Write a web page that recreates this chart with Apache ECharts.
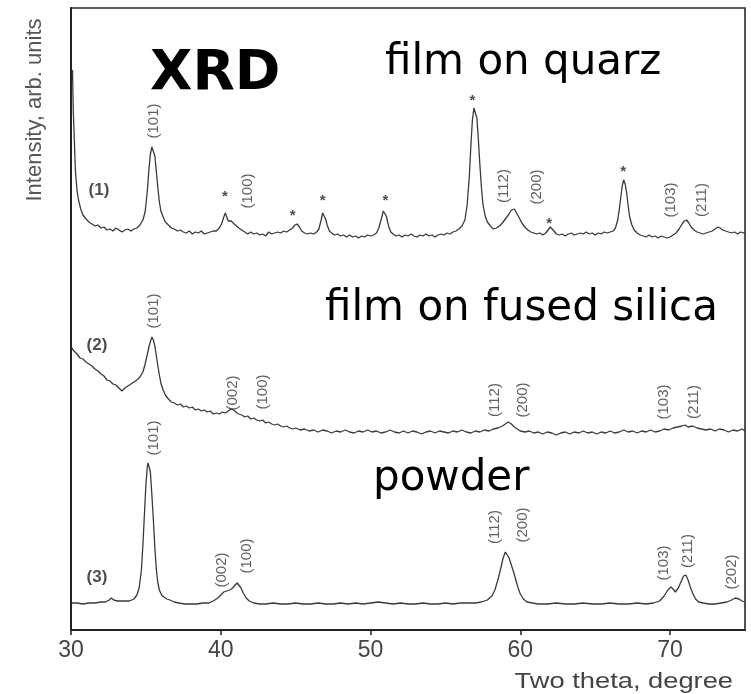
<!DOCTYPE html>
<html>
<head>
<meta charset="utf-8">
<script src="https://cdn.jsdelivr.net/npm/echarts@6/dist/echarts.min.js"></script>
<style>
  html, body { margin: 0; padding: 0; background: #fff; }
  #chart { width: 751px; height: 694px; }
</style>
</head>
<body>
<div id="chart"></div>
<script>
// two theta (degree) vs intensity (arb. units)
var filmQuartz = [
    [30.1,560],[30.15,520],[30.2,500],[30.25,478],[30.3,458],[30.4,440],[30.5,430],[30.65,421],[30.8,415],[31.0,411],[31.2,408],[31.4,406],[31.6,404],[31.8,405],[32.0,402],[32.2,403],[32.4,400],[32.6,401],[32.8,399],[33.0,402],[33.2,400],[33.4,398],[33.6,400],[33.8,401],[34.0,399],[34.2,401],[34.4,402],[34.6,405],[34.8,410],[34.95,418],[35.1,440],[35.2,460],[35.3,476],[35.4,483],[35.5,482],[35.6,474],[35.7,458],[35.8,442],[35.9,428],[36.0,419],[36.15,413],[36.3,408],[36.5,405],[36.7,402],[36.9,401],[37.1,399],[37.3,400],[37.5,398],[37.7,397],[37.9,399],[38.1,396],[38.3,398],[38.5,397],[38.7,399],[38.9,396],[39.1,397],[39.3,398],[39.5,399],[39.7,399],[39.9,402],[40.05,406],[40.2,413],[40.3,417],[40.4,416],[40.5,409],[40.6,407],[40.7,409],[40.8,408],[40.9,406],[41.0,404],[41.2,402],[41.4,400],[41.6,398],[41.8,396],[42.0,398],[42.2,396],[42.4,397],[42.6,395],[42.8,396],[43.0,394],[43.2,398],[43.4,396],[43.6,397],[43.8,398],[44.0,397],[44.2,399],[44.4,398],[44.6,400],[44.8,402],[44.95,405],[45.1,406],[45.25,403],[45.4,399],[45.6,397],[45.8,396],[46.0,397],[46.2,396],[46.4,398],[46.55,401],[46.7,410],[46.8,417],[46.9,416],[47.0,411],[47.1,405],[47.25,399],[47.4,397],[47.6,395],[47.8,396],[48.0,394],[48.2,395],[48.4,393],[48.6,395],[48.8,393],[49.0,394],[49.2,392],[49.4,394],[49.6,393],[49.8,395],[50.0,394],[50.2,395],[50.4,397],[50.55,402],[50.7,410],[50.85,419],[50.95,420],[51.05,414],[51.2,404],[51.35,398],[51.5,396],[51.7,394],[51.9,395],[52.1,393],[52.3,395],[52.5,394],[52.7,396],[52.9,394],[53.1,393],[53.3,395],[53.5,394],[53.7,396],[53.9,394],[54.1,395],[54.3,393],[54.5,395],[54.7,396],[54.9,395],[55.1,397],[55.3,396],[55.5,398],[55.7,399],[55.9,401],[56.1,404],[56.3,410],[56.45,425],[56.6,455],[56.7,485],[56.8,510],[56.9,522],[56.95,523],[57.0,521],[57.1,512],[57.2,490],[57.3,465],[57.4,443],[57.5,426],[57.65,414],[57.8,408],[58.0,404],[58.2,401],[58.4,402],[58.6,404],[58.8,407],[59.0,411],[59.2,415],[59.4,420],[59.5,422],[59.6,421],[59.75,417],[59.9,413],[60.1,407],[60.3,403],[60.5,400],[60.7,398],[60.9,397],[61.1,396],[61.3,397],[61.5,395],[61.7,397],[61.85,400],[62.0,403],[62.1,402],[62.25,399],[62.4,396],[62.6,395],[62.8,396],[63.0,394],[63.2,396],[63.4,397],[63.6,395],[63.8,396],[64.0,397],[64.2,396],[64.4,398],[64.6,396],[64.8,397],[65.0,395],[65.2,397],[65.4,396],[65.6,398],[65.8,397],[66.0,398],[66.2,399],[66.35,402],[66.5,410],[66.6,420],[66.7,432],[66.8,444],[66.9,450],[67.0,446],[67.1,437],[67.2,424],[67.3,413],[67.45,405],[67.6,400],[67.8,397],[68.0,395],[68.2,394],[68.4,393],[68.6,395],[68.8,393],[69.0,394],[69.2,392],[69.4,394],[69.6,393],[69.8,392],[70.0,393],[70.2,395],[70.4,397],[70.6,401],[70.8,406],[70.95,409],[71.1,410],[71.25,407],[71.4,403],[71.6,400],[71.8,398],[72.0,397],[72.2,396],[72.4,397],[72.6,398],[72.8,399],[73.0,401],[73.2,403],[73.35,402],[73.5,400],[73.7,399],[73.9,398],[74.1,397],[74.3,398],[74.5,396],[74.7,398],[74.9,397],[75.0,398]
];

var filmSilica = [
    [30.05,282],[30.2,279],[30.4,276],[30.6,272],[30.8,271],[31.0,268],[31.2,266],[31.4,264],[31.6,261],[31.8,259],[32.0,256],[32.2,254],[32.4,250],[32.6,249],[32.8,246],[33.0,245],[33.2,242],[33.4,239],[33.6,242],[33.8,244],[34.0,246],[34.2,248],[34.4,250],[34.6,253],[34.8,258],[34.95,266],[35.1,276],[35.25,286],[35.4,293],[35.5,290],[35.6,284],[35.7,274],[35.8,264],[35.9,255],[36.0,247],[36.15,240],[36.3,235],[36.5,231],[36.7,228],[36.9,227],[37.1,225],[37.3,226],[37.5,223],[37.7,224],[37.9,222],[38.1,223],[38.3,220],[38.5,221],[38.7,219],[38.9,220],[39.1,218],[39.3,219],[39.5,216],[39.7,217],[39.9,216],[40.1,218],[40.3,217],[40.5,219],[40.7,221],[40.85,220],[41.0,218],[41.2,216],[41.4,215],[41.6,213],[41.8,214],[42.0,211],[42.2,212],[42.4,210],[42.6,209],[42.8,210],[43.0,207],[43.2,208],[43.4,206],[43.6,205],[43.8,206],[44.0,204],[44.2,203],[44.4,204],[44.6,202],[44.8,201],[45.0,202],[45.3,200],[45.6,201],[45.9,199],[46.2,200],[46.5,198],[46.8,200],[47.1,199],[47.4,197],[47.7,199],[48.0,198],[48.3,200],[48.6,198],[48.9,197],[49.2,199],[49.5,198],[49.8,200],[50.1,198],[50.4,199],[50.7,197],[51.0,198],[51.3,200],[51.6,198],[51.9,197],[52.2,199],[52.5,197],[52.8,199],[53.1,198],[53.4,196],[53.7,198],[54.0,199],[54.3,197],[54.6,199],[54.9,198],[55.2,197],[55.5,199],[55.8,198],[56.1,200],[56.4,198],[56.7,197],[57.0,199],[57.3,198],[57.6,200],[57.9,199],[58.2,201],[58.5,202],[58.8,204],[59.0,206],[59.2,208],[59.4,206],[59.6,203],[59.8,201],[60.0,199],[60.3,198],[60.6,199],[60.9,197],[61.2,198],[61.5,196],[61.8,198],[62.1,197],[62.4,195],[62.7,197],[63.0,198],[63.3,196],[63.6,198],[63.9,197],[64.2,199],[64.5,197],[64.8,198],[65.1,196],[65.4,198],[65.7,197],[66.0,199],[66.3,197],[66.6,198],[66.9,200],[67.2,198],[67.5,199],[67.8,197],[68.1,199],[68.4,198],[68.7,200],[69.0,198],[69.3,199],[69.6,201],[69.9,200],[70.2,202],[70.5,203],[70.8,204],[71.0,205],[71.2,203],[71.5,204],[71.8,202],[72.1,201],[72.4,200],[72.7,201],[73.0,199],[73.3,201],[73.6,200],[73.9,198],[74.2,200],[74.5,199],[74.8,201],[75.0,199]
];

var powder = [
    [30.05,27],[30.4,27],[30.8,26],[31.2,27],[31.6,27],[32.0,28],[32.3,28],[32.55,30],[32.7,32],[32.85,30],[33.1,29],[33.5,29],[33.9,29],[34.2,31],[34.4,35],[34.55,42],[34.7,60],[34.8,85],[34.9,115],[35.0,145],[35.1,164],[35.15,167],[35.2,166],[35.3,158],[35.4,135],[35.5,110],[35.6,82],[35.7,60],[35.8,47],[35.9,40],[36.05,35],[36.2,33],[36.4,31],[36.6,30],[36.9,28],[37.2,27],[37.6,26],[38.0,26],[38.4,26],[38.8,27],[39.2,27],[39.5,29],[39.8,32],[40.0,35],[40.2,38],[40.4,39],[40.6,40],[40.8,42],[40.95,45],[41.1,47],[41.2,46],[41.35,42],[41.5,37],[41.7,32],[41.9,29],[42.2,27],[42.6,26],[43.0,26],[43.5,27],[44.0,26],[44.5,26],[45.0,27],[45.5,26],[46.0,26],[46.5,27],[47.0,26],[47.5,26],[48.0,27],[48.5,26],[49.0,27],[49.5,26],[50.0,27],[50.5,28],[51.0,27],[51.5,26],[52.0,27],[52.5,26],[53.0,26],[53.5,27],[54.0,26],[54.5,26],[55.0,27],[55.5,26],[56.0,27],[56.5,27],[57.0,27],[57.4,28],[57.8,30],[58.1,34],[58.3,40],[58.5,50],[58.7,62],[58.85,72],[59.0,78],[59.1,77],[59.25,72],[59.4,65],[59.55,58],[59.7,50],[59.85,42],[60.0,36],[60.2,31],[60.45,28],[60.8,27],[61.2,26],[61.8,26],[62.4,27],[63.0,26],[63.6,26],[64.2,27],[64.8,26],[65.4,26],[66.0,27],[66.6,26],[67.2,26],[67.8,27],[68.4,26],[68.9,27],[69.3,29],[69.6,34],[69.85,40],[70.05,43],[70.2,41],[70.35,38],[70.55,42],[70.75,49],[70.9,54],[71.05,55],[71.2,50],[71.35,43],[71.5,37],[71.7,31],[71.9,28],[72.2,27],[72.6,26],[73.0,26],[73.4,27],[73.8,28],[74.1,30],[74.35,32],[74.6,31],[74.8,29],[75.0,28]
];

// reflection labels: [two theta, intensity, text]
var hklQuartz = [[35.53,509,'(101)'],[41.8,439,'(100)'],[58.93,444,'(112)'],[61.13,443,'(200)'],[70.07,430,'(103)'],[72.13,430,'(211)']];
var hklSilica = [[35.53,319,'(101)'],[40.8,237,'(002)'],[42.8,238,'(100)'],[58.33,230,'(112)'],[60.2,230,'(200)'],[69.6,228,'(103)'],[71.6,228,'(211)']];
var hklPowder = [[35.53,192,'(101)'],[40.07,60,'(002)'],[41.73,74,'(100)'],[58.33,103,'(112)'],[60.2,105,'(200)'],[69.6,67,'(103)'],[71.2,79,'(211)'],[74.13,58,'(202)']];
// substrate (quartz) reflections
var stars = [[40.27,433],[44.8,414],[46.8,429],[51.0,429],[56.8,529],[61.93,406],[66.87,458]];
var sampleTags = [[31.87,440,'(1)'],[31.73,285,'(2)'],[31.73,53,'(3)']];

var xTicks = [30, 40, 50, 60, 70];

var chart = echarts.init(document.getElementById('chart'));

function curve(data) {
    return {
        type: 'line',
        data: data,
        showSymbol: false,
        silent: true,
        lineStyle: { color: '#3a3a3a', width: 1.3 }
    };
}

function labels(data, size, weight, rotate, color) {
    return {
        type: 'scatter',
        data: data,
        symbolSize: 1,
        silent: true,
        itemStyle: { color: 'rgba(0,0,0,0)' },
        label: {
            show: true,
            position: 'inside',
            rotate: rotate,
            formatter: function (p) { return p.data[2] || '*'; },
            fontFamily: 'Liberation Sans',
            fontSize: size,
            fontWeight: weight,
            color: color
        }
    };
}

var option = {
    animation: false,
    backgroundColor: '#fff',
    grid: {
        left: 71, right: 6, top: 8, bottom: 64,
        show: true,
        borderColor: '#2a2a2a',
        borderWidth: 1.6
    },
    xAxis: {
        type: 'value',
        min: 30,
        max: 75,
        interval: 10,
        splitLine: { show: false },
        axisLine: { lineStyle: { color: '#222', width: 2 } },
        axisTick: { inside: false, length: 5, lineStyle: { color: '#222', width: 1.5 } },
        axisLabel: {
            showMaxLabel: false,
            margin: 9,
            fontFamily: 'Liberation Sans',
            fontSize: 23,
            color: '#444',
            formatter: function (v) { return xTicks.indexOf(v) >= 0 ? String(v) : ''; }
        }
    },
    yAxis: {
        type: 'value',
        min: 0,
        max: 622,
        splitLine: { show: false },
        axisLine: { show: true, lineStyle: { color: '#222', width: 2 } },
        axisTick: { show: false },
        axisLabel: { show: false }
    },
    series: [
        curve(filmQuartz),
        curve(filmSilica),
        curve(powder),
        labels(hklQuartz, 15, 'normal', 90, '#3a3a3a'),
        labels(hklSilica, 15, 'normal', 90, '#3a3a3a'),
        labels(hklPowder, 15, 'normal', 90, '#3a3a3a'),
        labels(stars, 15, 'bold', 0, '#222'),
        labels(sampleTags, 17, 'bold', 0, '#222')
    ],
    graphic: [
        {
            type: 'text', x: 35, y: 110, rotation: Math.PI / 2,
            style: { text: 'Intensity, arb. units', fontFamily: 'Liberation Sans', fontSize: 22, fill: '#555', align: 'center', verticalAlign: 'middle' }
        },
        {
            type: 'text', x: 733, y: 682, scaleX: 1.24,
            style: { text: 'Two theta, degree', fontFamily: 'Liberation Sans', fontSize: 22, fill: '#444', align: 'right', verticalAlign: 'middle' }
        },
        {
            type: 'text', x: 150, y: 75,
            style: { text: 'XRD', fontFamily: 'DejaVu Sans', fontWeight: 'bold', fontSize: 55, fill: '#000', align: 'left', verticalAlign: 'middle' }
        },
        {
            type: 'text', x: 385, y: 63,
            style: { text: 'film on quarz', fontFamily: 'DejaVu Sans', fontSize: 42, fill: '#000', align: 'left', verticalAlign: 'middle' }
        },
        {
            type: 'text', x: 325, y: 309,
            style: { text: 'film on fused silica', fontFamily: 'DejaVu Sans', fontSize: 42, fill: '#000', align: 'left', verticalAlign: 'middle' }
        },
        {
            type: 'text', x: 373, y: 479,
            style: { text: 'powder', fontFamily: 'DejaVu Sans', fontSize: 42, fill: '#000', align: 'left', verticalAlign: 'middle' }
        }
    ]
};

option && chart.setOption(option);
</script>
</body>
</html>
